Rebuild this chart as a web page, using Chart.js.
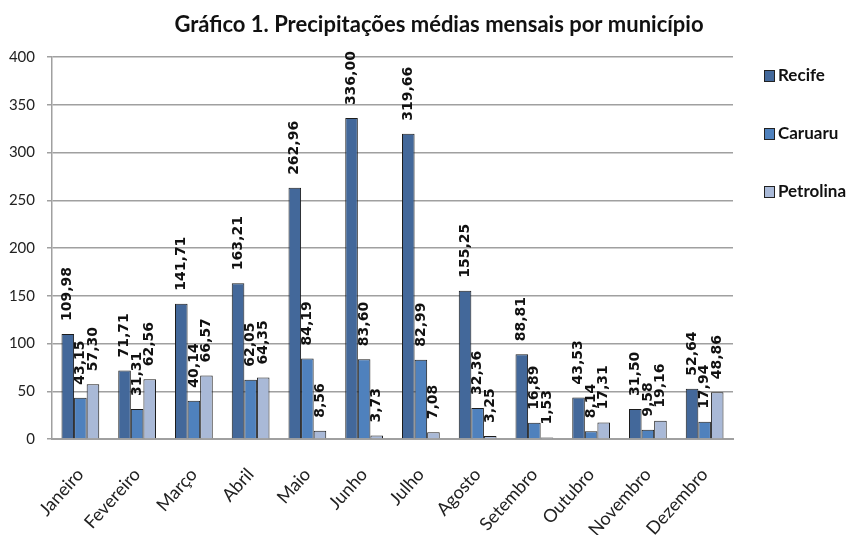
<!DOCTYPE html>
<html>
<head>
<meta charset="utf-8">
<script src="https://cdn.jsdelivr.net/npm/chart.js@4/dist/chart.umd.min.js"></script>
<style>
  html, body { margin: 0; padding: 0; background: #fff; }
  #wrap { width: 848px; height: 535px; }
</style>
</head>
<body>
<div id="wrap"><canvas id="chart"></canvas></div>
<script>
const title = 'Gráfico 1. Precipitações médias mensais por município';
const months = ['Janeiro', 'Fevereiro', 'Março', 'Abril', 'Maio', 'Junho', 'Julho', 'Agosto', 'Setembro', 'Outubro', 'Novembro', 'Dezembro'];
const recife = [109.98, 71.71, 141.71, 163.21, 262.96, 336.00, 319.66, 155.25, 88.81, 43.53, 31.50, 52.64];
const caruaru = [43.15, 31.31, 40.14, 62.05, 84.19, 83.60, 82.99, 32.36, 16.89, 8.14, 9.58, 17.94];
const petrolina = [57.30, 62.56, 66.57, 64.35, 8.56, 3.73, 7.08, 3.25, 1.53, 17.31, 19.16, 48.86];

const fmt = v => v.toFixed(2).replace('.', ',');

// value labels written upwards above each bar
const barLabels = {
  id: 'barLabels',
  afterDatasetsDraw(chart) {
    const ctx = chart.ctx;
    chart.data.datasets.forEach((ds, i) => {
      chart.getDatasetMeta(i).data.forEach((bar, j) => {
        ctx.save();
        ctx.translate(bar.x, bar.y - 13);
        ctx.rotate(-Math.PI / 2);
        ctx.font = 'bold 14px "DejaVu Sans"';
        ctx.fillStyle = '#111';
        ctx.textAlign = 'left';
        ctx.textBaseline = 'middle';
        ctx.fillText(fmt(ds.data[j]), 0, 0);
        ctx.restore();
      });
    });
  }
};

// title and legend laid out like the original spreadsheet chart
const extras = {
  id: 'extras',
  afterDraw(chart) {
    const ctx = chart.ctx;
    const area = chart.chartArea;
    ctx.save();
    ctx.font = 'bold 22px Lato';
    ctx.fillStyle = '#111';
    ctx.textAlign = 'center';
    ctx.textBaseline = 'middle';
    ctx.fillText(title, 439, 25);

    ctx.font = 'bold 17px Lato';
    ctx.textAlign = 'left';
    chart.data.datasets.forEach((ds, i) => {
      const y = area.top + 18 + i * 58;
      const x = area.right + 31;
      ctx.fillStyle = ds.backgroundColor;
      ctx.fillRect(x, y - 5, 10, 11);
      ctx.strokeStyle = '#222';
      ctx.lineWidth = 1;
      ctx.strokeRect(x + 0.5, y - 5 + 0.5, 10, 11);
      ctx.fillStyle = '#111';
      ctx.fillText(ds.label, x + 14, y + 1);
    });
    ctx.restore();
  }
};

new Chart(document.getElementById('chart'), {
  type: 'bar',
  data: {
    labels: months,
    datasets: [{
      label: 'Recife',
      data: recife,
      backgroundColor: '#43689A'
    }, {
      label: 'Caruaru',
      data: caruaru,
      backgroundColor: '#4F81BD'
    }, {
      label: 'Petrolina',
      data: petrolina,
      backgroundColor: '#A9B9D7'
    }]
  },
  options: {
    responsive: true,
    maintainAspectRatio: false,
    animation: false,
    layout: { padding: { top: 57, right: 115, left: 0, bottom: 0 } },
    datasets: {
      bar: {
        categoryPercentage: 0.665,
        barPercentage: 1,
        borderColor: '#1c1c1c',
        borderWidth: 1
      }
    },
    plugins: {
      legend: { display: false },
      title: { display: false },
      tooltip: { enabled: false }
    },
    scales: {
      x: {
        grid: { display: false },
        border: { color: '#a0a0a0', width: 2 },
        ticks: {
          minRotation: 48,
          maxRotation: 48,
          padding: 17,
          color: '#222',
          font: { family: 'Lato', size: 18 }
        },
        afterFit(scale) { scale.height = 96; }
      },
      y: {
        min: 0,
        max: 400,
        ticks: {
          stepSize: 50,
          padding: 12,
          color: '#222',
          font: { family: 'Lato', size: 15 }
        },
        grid: { color: '#a0a0a0', lineWidth: 1.5, tickLength: 5 },
        border: { color: '#a0a0a0', width: 1.5 },
        afterFit(scale) { scale.width = 52; }
      }
    }
  },
  plugins: [barLabels, extras]
});
</script>
</body>
</html>
